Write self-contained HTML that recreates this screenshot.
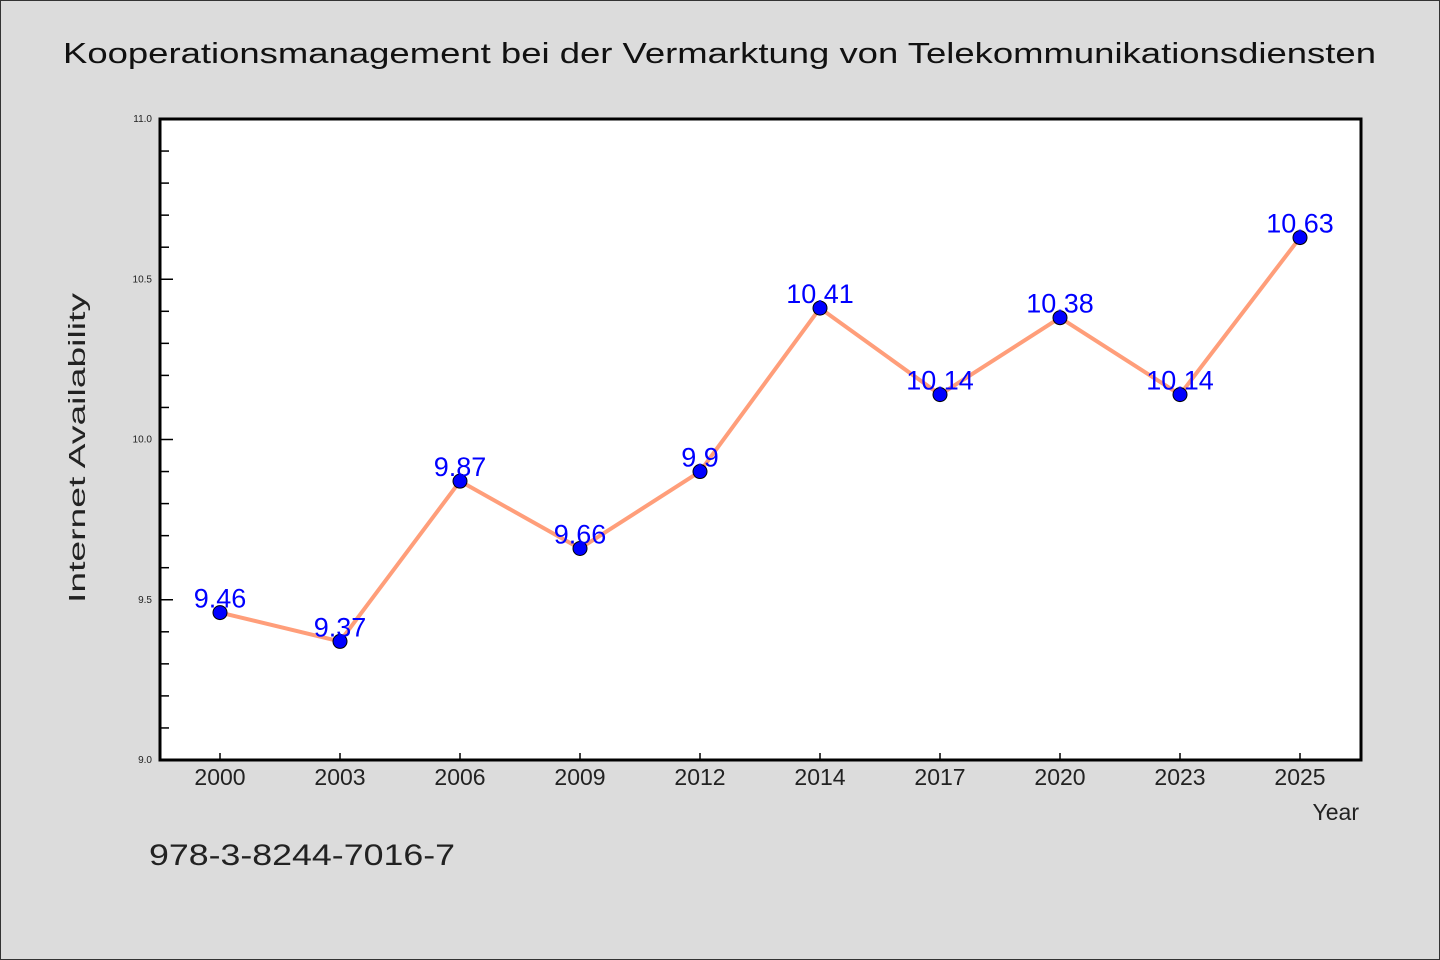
<!DOCTYPE html>
<html><head><meta charset="utf-8"><style>
html,body{margin:0;padding:0;background:#dcdcdc}
svg{display:block}
text{font-family:"WenQuanYi Zen Hei Mono","WenQuanYi Zen Hei","Liberation Sans",sans-serif}
</style></head><body>
<svg id="chart" width="1440" height="960" xmlns="http://www.w3.org/2000/svg">
<rect x="0.5" y="0.5" width="1439" height="959" fill="#dcdcdc" stroke="#333" stroke-width="1"/>
<text x="63" y="63" font-size="29" fill="#111" textLength="1313" lengthAdjust="spacingAndGlyphs">Kooperationsmanagement bei der Vermarktung von Telekommunikationsdiensten</text>
<rect x="160" y="119" width="1201" height="641" fill="#fff"/>
<g id="yticks"></g><g id="xticks"></g>
<g id="series"></g>
<rect x="160" y="119" width="1201" height="641" fill="none" stroke="#000" stroke-width="3"/>
<text transform="translate(85,448) rotate(-90)" text-anchor="middle" font-size="23" fill="#222" textLength="310" lengthAdjust="spacingAndGlyphs">Internet Availability</text>
<text x="1359" y="820" text-anchor="end" font-size="23" fill="#222">Year</text>
<text x="149" y="865" font-size="30" fill="#222" textLength="306" lengthAdjust="spacingAndGlyphs">978-3-8244-7016-7</text>
</svg>
<script>
const categories=["2000","2003","2006","2009","2012","2014","2017","2020","2023","2025"];
const values=[9.46,9.37,9.87,9.66,9.9,10.41,10.14,10.38,10.14,10.63];
const yTickLabels=["9.0","9.5","10.0","10.5","11.0"];
const yMin=9.0,yMax=11.0;
const NS="http://www.w3.org/2000/svg";
const L=160,R=1361,T=119,B=760;
const x=i=>220+i*(1080/(categories.length-1));
const y=v=>B-(v-yMin)/(yMax-yMin)*(B-T);
function mk(tag,attrs,parent){const e=document.createElementNS(NS,tag);for(const k in attrs)e.setAttribute(k,attrs[k]);parent.appendChild(e);return e;}
const yt=document.getElementById('yticks');
for(let k=0;k<=20;k++){
  const v=yMin+k*0.1;const yy=y(v);const major=k%5===0;
  const t=mk('line',{x1:L,x2:L+(major?13:9),y1:yy,y2:yy,stroke:'#000','stroke-width':1.5},yt);
  
  
}
yTickLabels.forEach(s=>{
  const t=mk('text',{x:152,y:y(parseFloat(s))+3,'text-anchor':'end','font-size':10,fill:'#222'},yt);
  t.textContent=s;
  
  
});
const xt=document.getElementById('xticks');
categories.forEach((c,i)=>{
  const l=mk('line',{x1:x(i),x2:x(i),y1:B,y2:B-7,stroke:'#000','stroke-width':1.5},xt);
  
  
  const t=mk('text',{x:x(i),y:785,'text-anchor':'middle','font-size':23,fill:'#222'},xt);
  t.textContent=c;
  
  
});
const sg=document.getElementById('series');
const pl=mk('polyline',{points:values.map((v,i)=>x(i)+','+y(v)).join(' '),fill:'none',stroke:'#ff9e7a','stroke-width':4,'stroke-linejoin':'round'},sg);


values.forEach((v,i)=>{
  const c=mk('circle',{cx:x(i),cy:y(v),r:7,fill:'#0000ff',stroke:'#000','stroke-width':1},sg);
  
  
});
values.forEach((v,i)=>{
  const t=mk('text',{x:x(i),y:y(v)-5,'text-anchor':'middle','font-size':27,fill:'#0000ff'},sg);
  t.textContent=String(v);
  
  
});
</script>
</body></html>
